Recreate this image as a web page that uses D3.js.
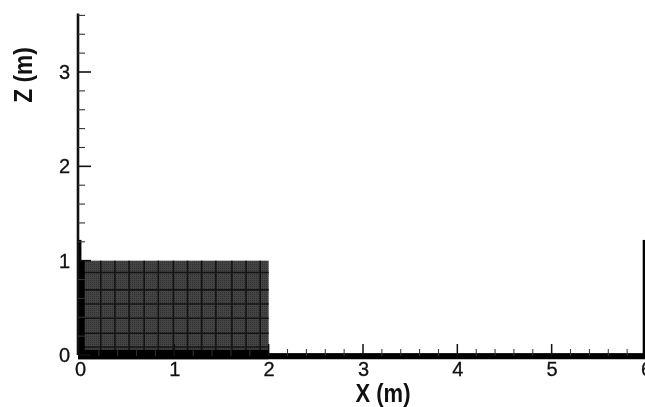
<!DOCTYPE html>
<html>
<head>
<meta charset="utf-8">
<script src="https://cdn.jsdelivr.net/npm/d3@7"></script>
<style>
  html, body { margin: 0; padding: 0; background: #fff; overflow: hidden; }
  svg { display: block; filter: blur(0.6px); }
  text { font-family: "Liberation Sans", Arial, sans-serif; fill: #111; }
</style>
</head>
<body>
<div id="chart"></div>
<script>
let xMajor = [0, 1, 2, 3, 4, 5, 6];
let zMajor = [0, 1, 2, 3];
let xMinor = [0.2, 0.4, 0.6, 0.8, 1.2, 1.4, 1.6, 1.8, 2.2, 2.4, 2.6, 2.8, 3.2, 3.4, 3.6, 3.8, 4.2, 4.4, 4.6, 4.8, 5.2, 5.4, 5.6, 5.8];
let zMinor = [0.2, 0.4, 0.6, 0.8, 1.2, 1.4, 1.6, 1.8, 2.2, 2.4, 2.6, 2.8, 3.2, 3.4, 3.6];

// heavy mesh lines inside the block
let blockX = [0.22, 0.37, 0.52, 0.68, 0.83, 0.99, 1.14, 1.29, 1.44, 1.61, 1.76, 1.91];
let blockZ = [0.875, 0.69, 0.54, 0.39, 0.23, 0.085];
let block = [0, 2, 0, 1];        // x0, x1, z0, z1

let leftWall = [-0.02, 0.05, 0, 1];
let leftWallTop = [-0.02, 0.015, 1, 1.22];
let rightWall = [5.965, 6, 0, 1.22];
let floorBand = [-0.02, 6, -0.045, 0.02];
let floorUnderBlock = [-0.02, 2, -0.045, 0.055];

let width = 645, height = 407;
let x = d3.scaleLinear().domain([0, 6]).range([80, 646]);
let z = d3.scaleLinear().domain([0, 3]).range([355, 72]);

let svg = d3.select('#chart').append('svg')
  .attr('width', width).attr('height', height);

// fine mesh texture of the block
let defs = svg.append('defs');
let fine = defs.append('pattern').attr('id', 'fine').attr('patternUnits', 'userSpaceOnUse')
  .attr('width', 2).attr('height', 2);
fine.append('rect').attr('width', 2).attr('height', 2).attr('fill', '#444');
fine.append('rect').attr('width', 1).attr('height', 1).attr('fill', '#303030');

let box = function(b, fill) {
  return svg.append('rect')
    .attr('x', x(b[0])).attr('width', x(b[1]) - x(b[0]))
    .attr('y', z(b[3])).attr('height', z(b[2]) - z(b[3]))
    .attr('fill', fill);
}

box(block, 'url(#fine)');

svg.selectAll('.meshx').data(blockX).enter().append('line')
  .attr('class', 'meshx')
  .attr('x1', d => x(d)).attr('x2', d => x(d))
  .attr('y1', z(block[3])).attr('y2', z(block[2]))
  .attr('stroke', '#141414').attr('stroke-width', 1.6);
svg.selectAll('.meshz').data(blockZ).enter().append('line')
  .attr('class', 'meshz')
  .attr('x1', x(block[0])).attr('x2', x(block[1]))
  .attr('y1', d => z(d)).attr('y2', d => z(d))
  .attr('stroke', '#141414').attr('stroke-width', 1.6);

box(leftWall, '#000');
box(leftWallTop, '#000');
box(rightWall, '#000');
box(floorBand, '#000');
box(floorUnderBlock, '#000');

// axes
let axisLine = function(g) {
  g.selectAll('text').style('font-size', '20px').style('font-family', '"Liberation Sans", Arial, sans-serif')
    .attr('fill', '#111').attr('stroke', '#111').attr('stroke-width', 0.3);
}

let xAxis = svg.append('g').attr('transform', 'translate(0,' + 359 + ')')
  .call(d3.axisBottom(x).tickValues(xMajor).tickFormat(d3.format('d')).tickSize(0).tickPadding(3));
axisLine(xAxis);
xAxis.select('.domain').remove();

svg.selectAll('.xmajor').data(xMajor.slice(1, -1)).enter().append('line')
  .attr('class', 'xmajor')
  .attr('x1', d => x(d)).attr('x2', d => x(d))
  .attr('y1', 344).attr('y2', 356)
  .attr('stroke', '#111').attr('stroke-width', 1.5);
svg.selectAll('.xminor').data(xMinor).enter().append('line')
  .attr('class', 'xminor')
  .attr('x1', d => x(d)).attr('x2', d => x(d))
  .attr('y1', 349).attr('y2', 356)
  .attr('stroke', '#333').attr('stroke-width', 1);

let zAxis = svg.append('g').attr('transform', 'translate(78,0)')
  .call(d3.axisLeft(z).tickValues(zMajor).tickFormat(d3.format('d')).tickSize(0).tickPadding(8));
axisLine(zAxis);
zAxis.select('.domain').remove();

svg.append('line')
  .attr('x1', 78).attr('x2', 78)
  .attr('y1', z(3.62)).attr('y2', z(0))
  .attr('stroke', '#111').attr('stroke-width', 2.6);
svg.selectAll('.zmajor').data(zMajor).enter().append('line')
  .attr('class', 'zmajor')
  .attr('x1', 78).attr('x2', 91)
  .attr('y1', d => z(d)).attr('y2', d => z(d))
  .attr('stroke', '#111').attr('stroke-width', 1.6);
svg.selectAll('.zminor').data(zMinor).enter().append('line')
  .attr('class', 'zminor')
  .attr('x1', 78).attr('x2', 85)
  .attr('y1', d => z(d)).attr('y2', d => z(d))
  .attr('stroke', '#333').attr('stroke-width', 1.1);

// titles, stretched a little like the scanned original
svg.append('text').text('X (m)')
  .attr('transform', 'translate(383,402) scale(1,1.2)')
  .attr('text-anchor', 'middle')
  .attr('font-size', 22).attr('font-weight', 'bold');
svg.append('text').text('Z (m)')
  .attr('transform', 'translate(32,75) rotate(-90) scale(1.03,1.2)')
  .attr('text-anchor', 'middle')
  .attr('font-size', 22).attr('font-weight', 'bold');
</script>
</body>
</html>
